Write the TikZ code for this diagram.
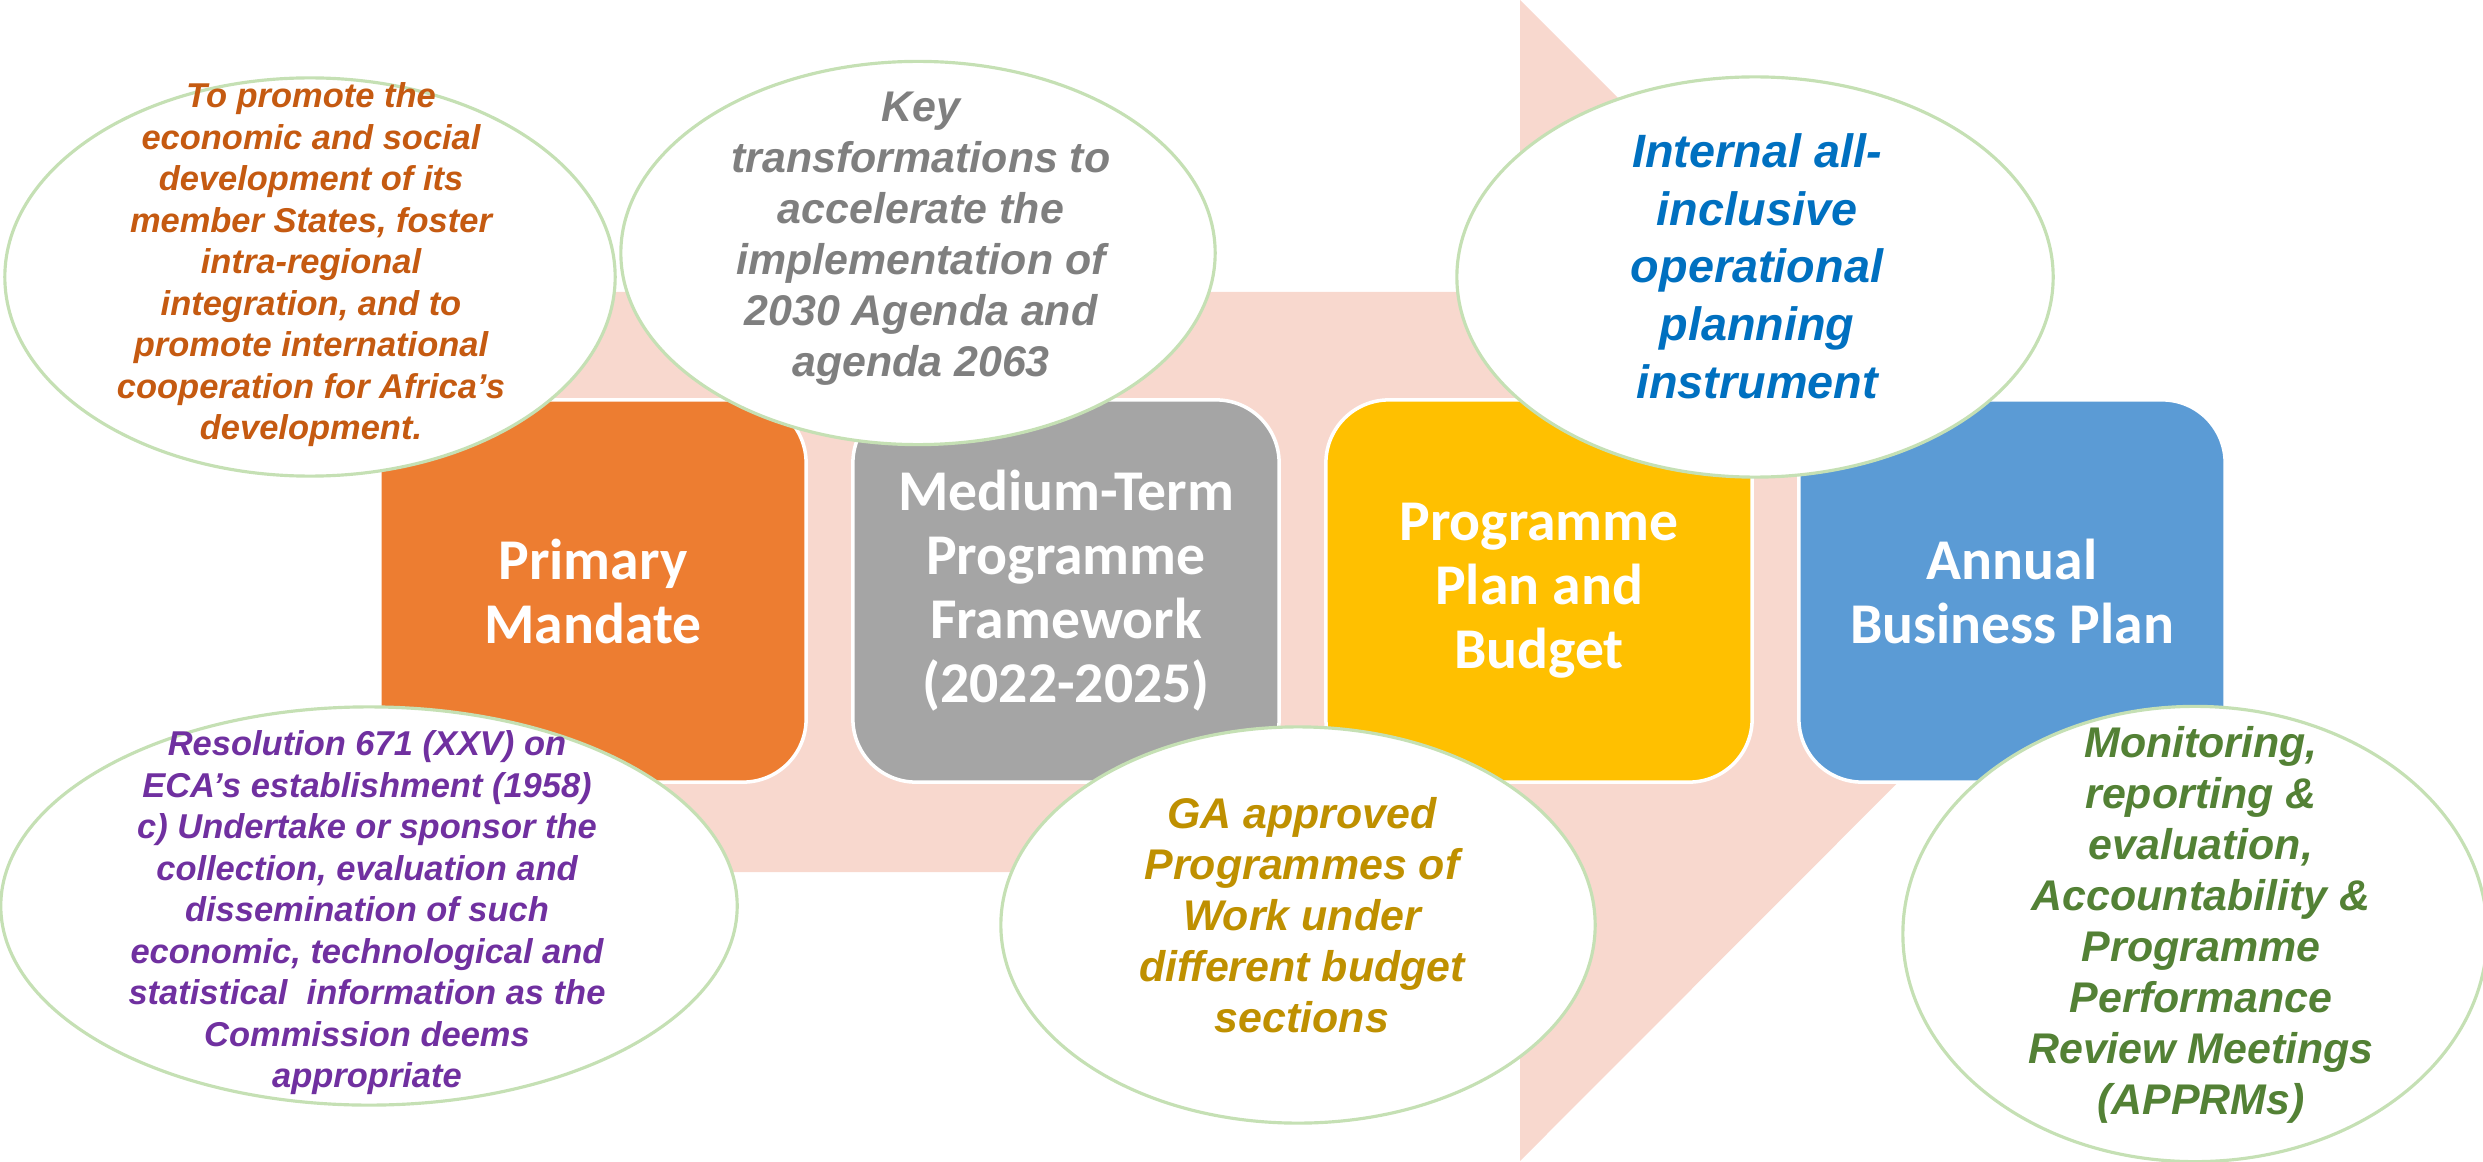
\documentclass[tikz,border=0pt]{standalone}
\usepackage{fontspec}
\setmainfont{Liberation Sans}
\newfontfamily\boxfont{Carlito}
\usetikzlibrary{shapes.geometric}

\definecolor{arrowpink}{HTML}{F8D8CE}
\definecolor{boxorange}{HTML}{ED7D31}
\definecolor{boxgray}{HTML}{A5A5A5}
\definecolor{boxyellow}{HTML}{FFC000}
\definecolor{boxblue}{HTML}{5B9BD5}
\definecolor{rimgreen}{HTML}{C5E0B4}
\definecolor{txtorange}{HTML}{C55A11}
\definecolor{txtgray}{HTML}{7F7F7F}
\definecolor{txtblue}{HTML}{0070C0}
\definecolor{txtpurple}{HTML}{7030A0}
\definecolor{txtgold}{HTML}{BF9000}
\definecolor{txtgreen}{HTML}{538135}

\begin{document}
\begin{tikzpicture}[
        x=0.01cm, y=-0.01cm,
        stage/.style={draw=white, line width=1pt, rounded corners=0.63cm, minimum width=4.26cm, minimum height=3.82cm, text=white, align=center, font={\boxfont\bfseries\fontsize{16.4}{18.2}\selectfont}},
        note/.style={draw=rimgreen, line width=0.9pt, fill=white, ellipse, inner sep=0pt},
        notesmall/.style={align=center, font={\bfseries\itshape\fontsize{9.8}{11.8}\selectfont}},
        notebig/.style={align=center, font={\bfseries\itshape\fontsize{12.2}{14.5}\selectfont}}
    ]
        \useasboundingbox (0,0) rectangle (2483,1161);

        % Freccia di fondo
        \fill[arrowpink] (380,292) -- (1520,292) -- (1520,0) -- (2100,580) -- (1520,1161) -- (1520,872) -- (380,872) -- cycle;

        % Fasi
        \node[stage, fill=boxorange] (mandate) at (593, 591) {Primary\\Mandate};
        \node[stage, fill=boxgray] (mtpf) at (1066, 591) {Medium-Term\\Programme\\Framework\\(2022-2025)};
        \node[stage, fill=boxyellow] (budget) at (1539, 591) {Programme\\Plan and\\Budget};
        \node[stage, fill=boxblue] (abp) at (2012, 591) {Annual\\Business Plan};

        % Note sopra
        \node[note, minimum width=6.1cm, minimum height=3.98cm] (aim) at (310, 277) {};
        \node[notesmall, text=txtorange] (aimtxt) at (311, 265) {To promote the\\economic and social\\development of its\\member States, foster\\intra-regional\\integration, and to\\promote international\\cooperation for Africa’s\\development.};
        \node[note, minimum width=5.94cm, minimum height=3.83cm] (keys) at (918, 253) {};
        \node[notebig, text=txtgray] (keystxt) at (921, 239) {Key\\transformations to\\accelerate the\\implementation of\\2030 Agenda and\\agenda 2063};
        \node[note, minimum width=5.96cm, minimum height=4cm] (inst) at (1755, 277) {};
        \node[notebig, text=txtblue, font={\bfseries\itshape\fontsize{13.3}{16.4}\selectfont}] (insttxt) at (1757, 266) {Internal all-\\inclusive\\operational\\planning\\instrument};

        % Note sotto
        \node[note, minimum width=7.36cm, minimum height=3.98cm] (res) at (369, 906) {};
        \node[notesmall, text=txtpurple] (restxt) at (367, 913) {Resolution 671 (XXV) on\\ECA’s establishment (1958)\\c) Undertake or sponsor the\\collection, evaluation and\\dissemination of such\\economic, technological and\\statistical\ \ information as the\\Commission deems\\appropriate};
        \node[note, minimum width=5.94cm, minimum height=3.96cm] (ga) at (1298, 925) {};
        \node[notebig, text=txtgold] (gatxt) at (1302, 915) {GA approved\\Programmes of\\Work under\\different budget\\sections};
        \node[note, minimum width=5.84cm, minimum height=4.55cm] (mre) at (2195, 934) {};
        \node[notebig, text=txtgreen] (mretxt) at (2201, 925) {Monitoring,\\reporting \&\\evaluation,\\Accountability \&\\Programme\\Performance\\Review Meetings\\(APPRMs)};

    \end{tikzpicture}
\end{document}
